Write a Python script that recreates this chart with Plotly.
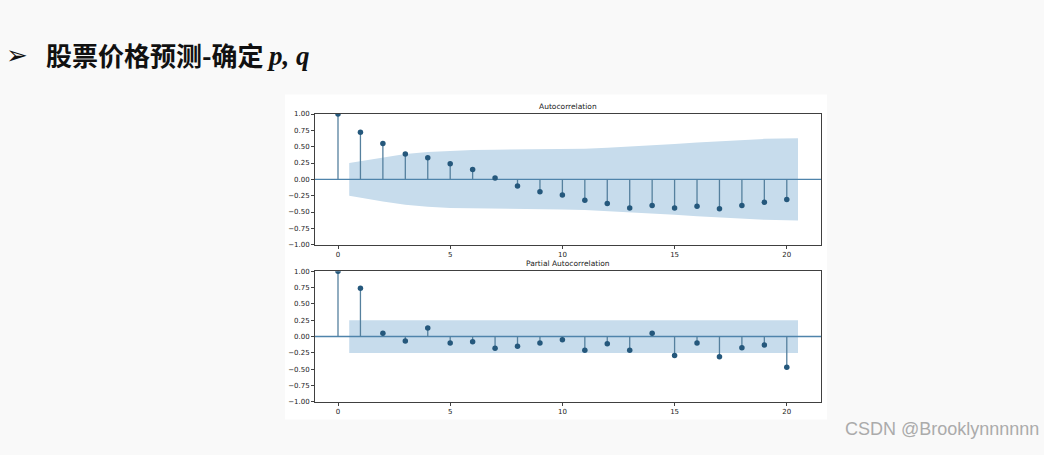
import plotly.graph_objects as go

# ---------------- data ----------------
lags = list(range(21))
acf_vals = [1.00, 0.72, 0.55, 0.39, 0.33, 0.24, 0.15, 0.02, -0.10, -0.19, -0.24,
            -0.32, -0.37, -0.44, -0.40, -0.44, -0.41, -0.45, -0.40, -0.35, -0.31]
# half-width of the confidence band, lags 1..20
acf_band = [0.25, 0.34, 0.39, 0.42, 0.44, 0.45, 0.455, 0.456, 0.457, 0.462,
            0.47, 0.483, 0.50, 0.524, 0.543, 0.565, 0.583, 0.604, 0.62, 0.63]
pacf_vals = [1.00, 0.74, 0.05, -0.07, 0.13, -0.10, -0.08, -0.18, -0.15, -0.10, -0.05,
             -0.21, -0.11, -0.21, 0.05, -0.29, -0.10, -0.31, -0.17, -0.13, -0.47]
pacf_band = [0.25, 0.25, 0.25, 0.25, 0.25, 0.25, 0.25, 0.25, 0.25, 0.25,
             0.25, 0.25, 0.25, 0.25, 0.25, 0.25, 0.25, 0.25, 0.25, 0.25]
xtick_vals = [0, 5, 10, 15, 20]
ytick_vals = [-1.0, -0.75, -0.5, -0.25, 0.0, 0.25, 0.5, 0.75, 1.0]
ytick_text = ["\u22121.00", "\u22120.75", "\u22120.50", "\u22120.25", "0.00",
              "0.25", "0.50", "0.75", "1.00"]
titles = ["Autocorrelation", "Partial Autocorrelation"]
page_title = "股票价格预测-确定"
math_part = "p, q"
watermark = "CSDN @Brooklynnnnnn"

# ---------------- layout geometry (pixels) ----------------
W, H = 1044, 455
AX_L, AX_R = 315, 821
PANELS = [(112, 245), (272, 405)]  # (top, bottom) of each axes
XR = [-1.025, 21.525]

def fx(px):
    return px / W

def fy(py):
    return 1 - py / H

BAND = "#c7dcec"
STEM = "#55809e"
MARK = "#25587c"
FRAME = "#404040"
TICKFONT = dict(family="DejaVu Sans", size=7, color="#222222")

fig = go.Figure()

for i, (vals, band) in enumerate([(acf_vals, acf_band), (pacf_vals, pacf_band)]):
    xa = "x" if i == 0 else "x2"
    ya = "y" if i == 0 else "y2"
    # confidence band
    bx = [lags[1] - 0.5] + lags[2:-1] + [lags[-1] + 0.5]
    fig.add_trace(go.Scatter(
        x=bx + bx[::-1],
        y=band + [-b for b in band[::-1]],
        fill="toself", fillcolor=BAND, line=dict(width=0), mode="lines",
        hoverinfo="skip", showlegend=False, xaxis=xa, yaxis=ya))
    # zero line
    fig.add_trace(go.Scatter(
        x=XR, y=[0, 0], mode="lines", line=dict(color="#4f84ab", width=1.4),
        showlegend=False, hoverinfo="skip", xaxis=xa, yaxis=ya))
    # stems
    sx, sy = [], []
    for k, v in zip(lags, vals):
        sx += [k, k, None]
        sy += [0, v, None]
    fig.add_trace(go.Scatter(
        x=sx, y=sy, mode="lines", line=dict(color=STEM, width=1.3),
        showlegend=False, hoverinfo="skip", xaxis=xa, yaxis=ya))
    # markers
    fig.add_trace(go.Scatter(
        x=lags, y=vals, mode="markers",
        marker=dict(color=MARK, size=5.5, line=dict(width=0)),
        showlegend=False, xaxis=xa, yaxis=ya))

axis_common = dict(showline=True, mirror=True, linecolor=FRAME, linewidth=1,
                   ticks="outside", ticklen=3, tickcolor=FRAME, tickwidth=1,
                   showgrid=False, zeroline=False, tickfont=TICKFONT)

lay = {}
for i, (top, bot) in enumerate(PANELS):
    sfx = "" if i == 0 else "2"
    lay["xaxis" + sfx] = dict(domain=[fx(AX_L), fx(AX_R)], range=XR,
                              anchor="y" + sfx, tickvals=xtick_vals,
                              ticktext=[str(v) for v in xtick_vals], **axis_common)
    lay["yaxis" + sfx] = dict(domain=[fy(bot), fy(top)], range=[-1, 1],
                              anchor="x" + sfx, tickvals=ytick_vals,
                              ticktext=ytick_text, **axis_common)

annotations = []
for i, (top, bot) in enumerate(PANELS):
    annotations.append(dict(
        text=titles[i], x=fx((AX_L + AX_R) / 2), y=fy(top - 8),
        xref="paper", yref="paper", xanchor="center", yanchor="middle",
        showarrow=False, font=dict(family="DejaVu Sans", size=7.5, color="#222222")))

annotations += [
    dict(text="\u27A2", x=fx(4), y=fy(52), xref="paper", yref="paper",
         xanchor="left", yanchor="middle", showarrow=False,
         font=dict(family="DejaVu Sans", size=26, color="#111111")),
    dict(text="<b>" + page_title + "</b>", x=fx(44), y=fy(51), xref="paper", yref="paper",
         xanchor="left", yanchor="middle", showarrow=False,
         font=dict(family="Noto Sans CJK SC", size=26, color="#111111")),
    dict(text="<b><i>" + math_part + "</i></b>", x=fx(265), y=fy(53), xref="paper",
         yref="paper", xanchor="left", yanchor="middle", showarrow=False,
         font=dict(family="Liberation Serif", size=27, color="#111111")),
    dict(text=watermark, x=fx(1041), y=fy(433), xref="paper", yref="paper",
         xanchor="right", yanchor="middle", showarrow=False,
         font=dict(family="Liberation Sans", size=18, color="#ababab")),
]

shapes = [dict(type="rect", xref="paper", yref="paper", x0=fx(285), x1=fx(827),
               y0=fy(423), y1=fy(92), fillcolor="white", line=dict(width=0),
               layer="below")]

fig.update_layout(
    width=W, height=H, margin=dict(l=0, r=0, t=0, b=0),
    paper_bgcolor="#f9f9f9", plot_bgcolor="white",
    annotations=annotations, shapes=shapes, showlegend=False, **lay)

fig.write_html("out.html", config={"displayModeBar": False},
               post_script="document.body.style.margin='0';document.body.style.background='#f9f9f9';")
